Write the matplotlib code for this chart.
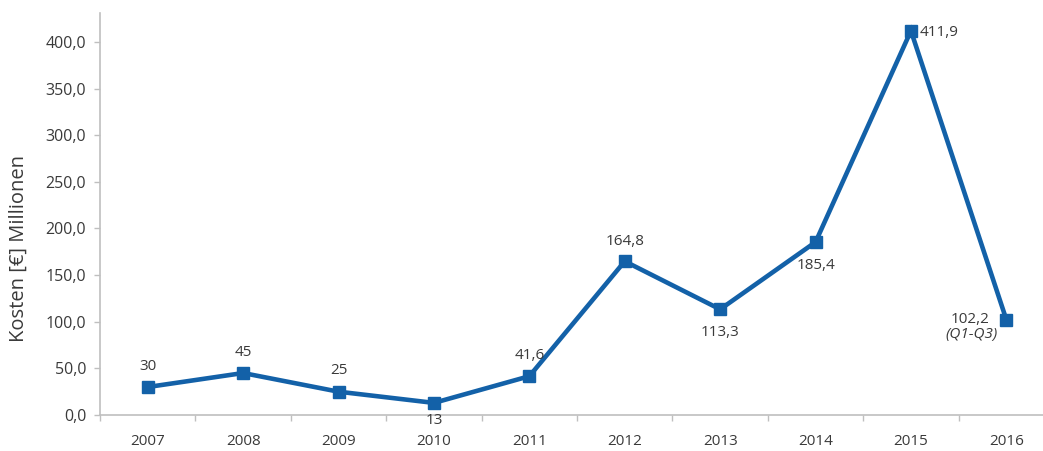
import matplotlib
matplotlib.use("Agg")
import matplotlib.pyplot as plt
from matplotlib.ticker import FixedLocator, FuncFormatter

# Jahreswerte der Kosten in Mio. Euro
years = ["2007", "2008", "2009", "2010", "2011", "2012", "2013", "2014", "2015", "2016"]
costs = [30, 45, 25, 13, 41.6, 164.8, 113.3, 185.4, 411.9, 102.2]
value_labels = ["30", "45", "25", "13", "41,6", "164,8", "113,3", "185,4", "411,9", "102,2"]
y_ticks = [0, 50, 100, 150, 200, 250, 300, 350, 400]

# where each value label sits relative to its marker (points)
label_offsets = [(0, 15), (0, 15), (0, 15), (0, -13), (0, 15),
                 (0, 14), (0, -17), (0, -17), (6, -1), (-12, 0)]
label_align = ["center"] * 8 + ["left", "right"]

LINE_BLUE = "#1361A8"
TEXT_GREY = "#3A3A3A"
AXIS_GREY = "#BFBFBF"

plt.rcParams["font.family"] = ["Open Sans", "DejaVu Sans"]

fig = plt.figure(figsize=(10.43, 4.51), dpi=100)
ax = fig.add_axes([0.0959, 0.0798, 0.9147, 0.8914])

x = list(range(len(years)))
ax.plot(x, costs, color=LINE_BLUE, linewidth=3.3, marker="s", markersize=8.5,
        solid_joinstyle="miter", zorder=3)

for xi, yi, txt, off, ha in zip(x, costs, value_labels, label_offsets, label_align):
    ax.annotate(txt, (xi, yi), xytext=off, textcoords="offset points",
                ha=ha, va="center", fontsize=11, color=TEXT_GREY)

# Hinweis: 2016 nur Q1 bis Q3
ax.annotate("(Q1-Q3)", (x[-1], costs[-1]), xytext=(-6, -11), textcoords="offset points",
            ha="right", va="center", fontsize=11, color=TEXT_GREY, style="italic")

ax.set_xlim(-0.5, len(years) - 0.5)
ax.set_ylim(0, 431)

ax.set_xticks(x)
ax.set_xticklabels(years)
ax.xaxis.set_minor_locator(FixedLocator([i + 0.5 for i in range(-1, len(years))]))
ax.tick_params(axis="x", which="major", length=0, pad=14, labelsize=11, labelcolor=TEXT_GREY)
ax.tick_params(axis="x", which="minor", length=4, width=1, color=AXIS_GREY, direction="out")

ax.set_yticks(y_ticks)
ax.yaxis.set_major_formatter(FuncFormatter(lambda v, _: f"{v:.1f}".replace(".", ",")))
ax.tick_params(axis="y", length=4, width=1, color=AXIS_GREY, pad=6,
               labelsize=11.5, labelcolor=TEXT_GREY)

for side in ("top", "right"):
    ax.spines[side].set_visible(False)
for side in ("left", "bottom"):
    ax.spines[side].set_color(AXIS_GREY)
    ax.spines[side].set_linewidth(1.2)

fig.text(0.018, 0.45, "Kosten [€] Millionen", rotation=90, ha="center", va="center",
         fontsize=14.5, color=TEXT_GREY)

fig.savefig("out.png", dpi=100, facecolor="white")
